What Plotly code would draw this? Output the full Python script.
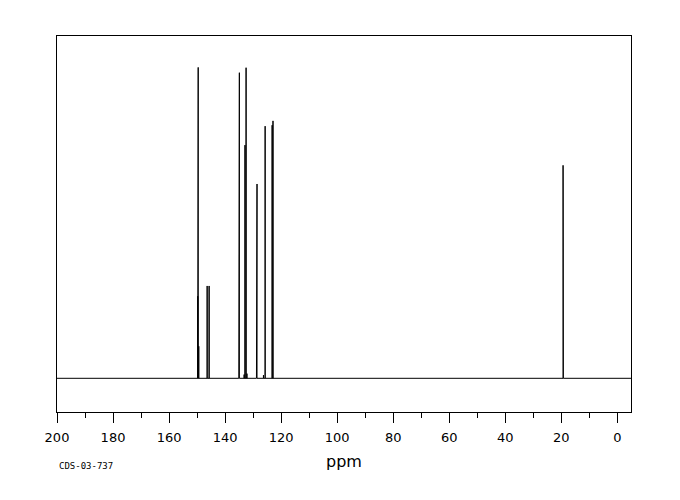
import plotly.graph_objects as go

# Peak positions (ppm) and relative intensities
peak_ppm = [149.75, 149.6, 149.4, 146.4, 145.7, 135.1, 134.9, 133.2, 132.9, 132.5, 132.2,
            128.8, 128.6, 126.3, 125.7, 123.2, 122.9, 19.35, 19.25]
peak_int = [26.4, 100.0, 10.3, 29.7, 29.7, 68.0, 98.3, 1.2, 75.0, 99.9, 1.5,
            52.0, 62.5, 1.0, 81.1, 81.4, 82.8, 68.5, 18.0]

x_range = [200, -4.9]
tick_vals = [200, 180, 160, 140, 120, 100, 80, 60, 40, 20, 0]
tick_text = [str(v) for v in tick_vals]

# Build the spectrum trace: baseline with a vertical stick at each peak
order = sorted(range(len(peak_ppm)), key=lambda i: -peak_ppm[i])
xs = [x_range[0]]
ys = [0]
for i in order:
    p, h = peak_ppm[i], peak_int[i]
    xs += [p, p, p]
    ys += [0, h, 0]
xs.append(x_range[1])
ys.append(0)

fig = go.Figure(go.Scatter(x=xs, y=ys, mode="lines",
                           line=dict(color="black", width=1), hoverinfo="skip"))

fig.update_layout(
    width=680, height=500,
    margin=dict(l=49, r=57, t=28, b=96),
    paper_bgcolor="white", plot_bgcolor="white",
    showlegend=False,
    font=dict(family="DejaVu Sans", color="black"),
    annotations=[dict(text="CDS-03-737", xref="paper", yref="paper",
                      x=0.0, y=-0.125, xanchor="left", yanchor="top",
                      showarrow=False, font=dict(size=9, family="DejaVu Sans Mono"))],
)
fig.update_xaxes(range=x_range, tickvals=tick_vals, ticktext=tick_text,
                 ticks="outside", ticklen=10, tickcolor="black", tickwidth=1,
                 ticklabelstandoff=3,
                 minor=dict(dtick=10, tick0=0, ticks="outside", ticklen=5,
                            tickcolor="black", tickwidth=1, showgrid=False),
                 showline=True, linecolor="black", linewidth=1, mirror=True,
                 showgrid=False, zeroline=False,
                 tickfont=dict(size=13),
                 title=dict(text="ppm", font=dict(size=16), standoff=12))
fig.update_yaxes(range=[-10.84, 110.1], showticklabels=False, ticks="",
                 showline=True, linecolor="black", linewidth=1, mirror=True,
                 showgrid=False, zeroline=False)

fig.write_html("out.html")
